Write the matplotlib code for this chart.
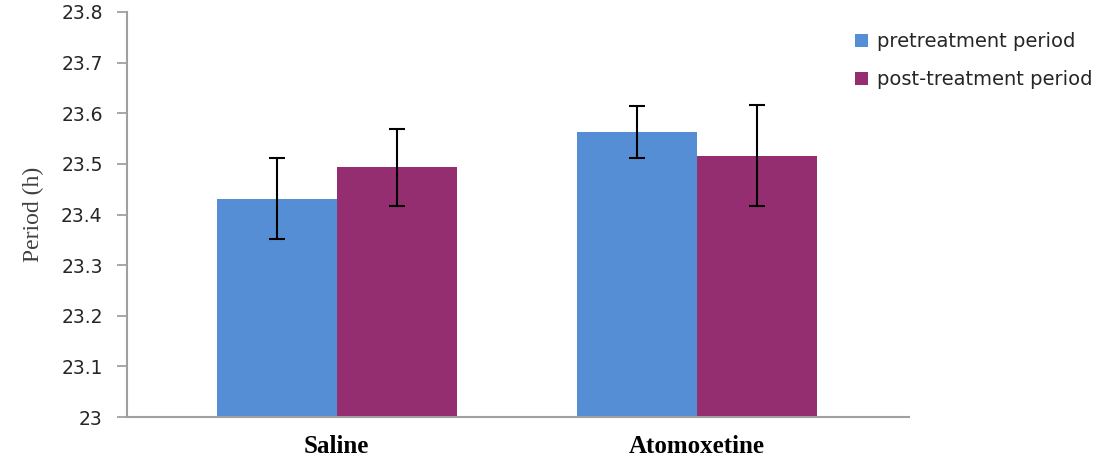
import numpy as np
import matplotlib
matplotlib.use("Agg")
import matplotlib.pyplot as plt

# данные
groups = ["Saline", "Atomoxetine"]
series = ["pretreatment period", "post-treatment period"]
pre_vals = [23.431, 23.563]
post_vals = [23.493, 23.516]
pre_err = [0.080, 0.052]
post_err = [0.076, 0.100]
yticks = [23, 23.1, 23.2, 23.3, 23.4, 23.5, 23.6, 23.7, 23.8]
ytick_labels = ["23", "23.1", "23.2", "23.3", "23.4", "23.5", "23.6", "23.7", "23.8"]

blue = "#558ED5"
purple = "#952D71"

fig = plt.figure(figsize=(11.11, 4.61), dpi=100)
ax = fig.add_axes([0.1143, 0.0954, 0.7036, 0.8786])

x = np.arange(len(groups))
w = 0.333
err_kw = dict(ecolor="black", capsize=6, elinewidth=1.5, capthick=1.5)
ax.bar(x - w / 2, [v - 23 for v in pre_vals], w, bottom=23, color=blue,
       yerr=pre_err, error_kw=err_kw, label=series[0])
ax.bar(x + w / 2, [v - 23 for v in post_vals], w, bottom=23, color=purple,
       yerr=post_err, error_kw=err_kw, label=series[1])

ax.set_xlim(-0.583, 1.589)
ax.set_ylim(23, 23.8)
ax.set_yticks(yticks)
ax.set_yticklabels(ytick_labels, fontsize=13.5, color="#262626", family="DejaVu Sans")
ax.set_xticks(x)
ax.set_xticklabels(groups, fontsize=18, fontweight="bold", family="Liberation Serif")
ax.tick_params(axis="x", length=0, pad=13)
ax.tick_params(axis="y", length=7.5, width=1.3, color="#A0A0A0", pad=10)

for s in ["top", "right"]:
    ax.spines[s].set_visible(False)
for s in ["left", "bottom"]:
    ax.spines[s].set_color("#A0A0A0")
    ax.spines[s].set_linewidth(1.5)

ax.set_ylabel("Period (h)", fontsize=17, family="Liberation Serif", color="#404040",
              labelpad=12)

leg = ax.legend(loc="upper left", bbox_to_anchor=(855 / 1111, 1 - 32 / 461),
                bbox_transform=fig.transFigure, frameon=False, fontsize=14,
                handlelength=0.65, handleheight=0.65, handletextpad=0.5,
                labelspacing=1.0, borderpad=0, borderaxespad=0)
for t in leg.get_texts():
    t.set_color("#262626")

plt.savefig("out.png", dpi=100)
